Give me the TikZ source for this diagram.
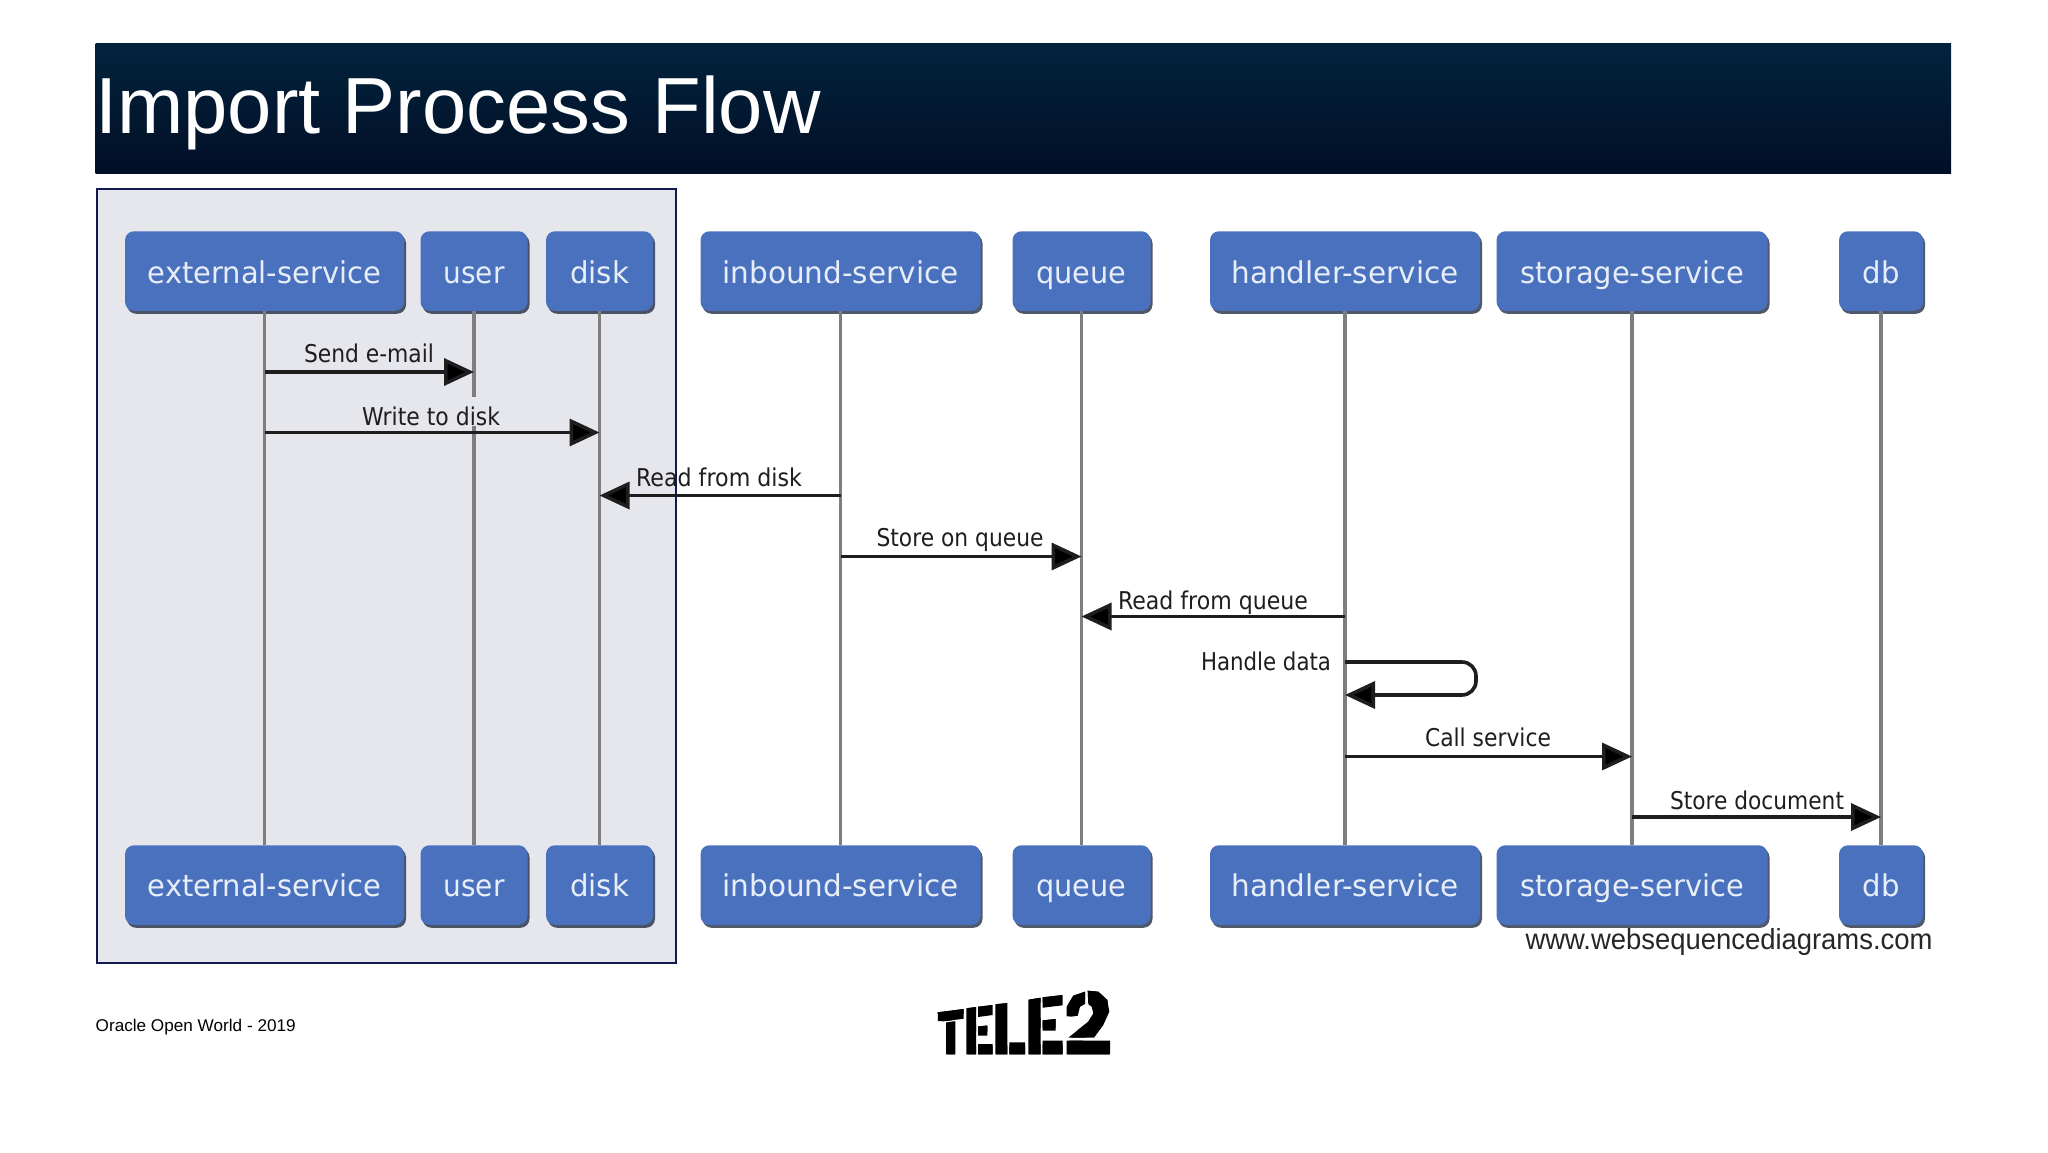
\documentclass[tikz,border=0pt]{standalone}
\usepackage{graphicx}
\usepackage{fontspec}
\setmainfont{Liberation Sans}
\newfontfamily\dv{DejaVu Sans}
\newfontfamily\logofont{Liberation Sans}[UprightFont={* Bold},FakeBold=20]
\usetikzlibrary{arrows.meta,shadows}
\definecolor{actorblue}{HTML}{4A71BE}
\definecolor{actortext}{HTML}{E8EEF8}
\definecolor{boxgrey}{HTML}{E6E7ED}
\definecolor{boxnavy}{HTML}{10184F}
\definecolor{lifegrey}{HTML}{7E7E80}
\definecolor{inkdark}{HTML}{1E1E1E}
\definecolor{headtop}{RGB}{3,35,61}
\definecolor{headmid}{RGB}{2,30,54}
\definecolor{headbot}{RGB}{1,15,38}
\newcommand\fitw[2]{\resizebox{#1pt}{\height}{#2}}
\tikzset{
  actor/.style={rectangle,rounded corners=9pt,fill=actorblue,text=actortext,inner sep=0pt,
    minimum height=79.5pt,text depth=0pt,font=\dv\fontsize{30}{32}\selectfont,
    drop shadow={shadow xshift=2pt,shadow yshift=-3pt,fill=black!70!actorblue,opacity=.75}},
  life/.style={draw=lifegrey,line width=3.4pt},
  msg/.style={draw=inkdark,line width=3.6pt,-{Triangle[length=30pt,width=27pt,fill=black]}},
  lbl/.style={anchor=base,inner sep=0pt,text=inkdark,font=\dv\fontsize{24.5}{28}\selectfont},
  logo/.style={anchor=base west,inner sep=0pt,text=black,font=\logofont\fontsize{60}{60}\selectfont},
}
\begin{document}
\begin{tikzpicture}[x=1pt,y=-1pt]
\useasboundingbox (0,0) rectangle (2048,1152);
\fill[white] (0,0) rectangle (2048,1152);
% header
\shade[top color=headtop,middle color=headmid,bottom color=headbot] (95.5,43) rectangle (1951,173.5);
\node[anchor=base west,inner sep=0pt,text=white,font=\fontsize{79.6}{90}\selectfont] (title) at (95,133) {Import Process Flow};
% highlighted panel
\node[draw=boxnavy,line width=2pt,fill=boxgrey,anchor=north west,inner sep=0pt,minimum width=579pt,minimum height=774pt] (panel) at (95.5,188) {};
% actors
\foreach \n/\t/\x/\w/\f in {ext/external-service/264.5/279/233,user/user/474/107/61,disk/disk/599.5/107/59,inb/inbound-service/840.5/280/236,que/queue/1081.5/138/90,han/handler-service/1345/270/227,sto/storage-service/1632/271/224,dbb/db/1881/84/37}{
  \node[actor,text height=25pt,minimum width=\w pt] (\n1) at (\x,271) {\fitw{\f}{\t}};
  \node[actor,text height=22pt,minimum width=\w pt] (\n2) at (\x,885) {\fitw{\f}{\t}};
  \draw[life] (\n1) -- (\n2);
}
% labels
\node[lbl] (lsend) at (369,362.5) {\fitw{130}{Send e-mail}};
\node[lbl,fill=boxgrey,text height=29pt,text depth=0pt] (lwrite) at (431,425.5) {\fitw{138}{Write to disk}};
\node[lbl] (lread) at (719,486.5) {\fitw{166}{Read from disk}};
\node[lbl] (lstore) at (960,546.5) {\fitw{167}{Store on queue}};
\node[lbl] (lreadq) at (1213,609.5) {\fitw{190}{Read from queue}};
\node[lbl] (lhandle) at (1266,670.5) {\fitw{130}{Handle data}};
\node[lbl] (lcall) at (1488,746.5) {\fitw{126}{Call service}};
\node[lbl] (lstored) at (1757,809.5) {\fitw{174}{Store document}};
% messages
\draw[msg] (ext1 |- 0,372) -- (user1 |- 0,372);
\draw[msg] (ext1 |- 0,432.5) -- (disk1 |- 0,432.5);
\draw[msg] (inb1 |- 0,495.5) -- (disk1 |- 0,495.5);
\draw[msg] (inb1 |- 0,556.5) -- (que1 |- 0,556.5);
\draw[msg] (han1 |- 0,616.5) -- (que1 |- 0,616.5);
\coordinate (loopa) at (1476,662);
\coordinate (loopb) at (1476,695);
\draw[msg,rounded corners=14pt] (han1 |- 0,662) -- (loopa) -- (loopb) -- (han1 |- 0,695);
\draw[msg] (han1 |- 0,756.5) -- (sto1 |- 0,756.5);
\draw[msg] (sto1 |- 0,817) -- (dbb1 |- 0,817);
% watermark and footer
\node[anchor=base,inner sep=0pt,text=black!85,font=\fontsize{29}{32}\selectfont] (www) at (1729,949) {\fitw{407}{www.websequencediagrams.com}};
\node[anchor=base west,inner sep=0pt,text=black,font=\fontsize{17}{20}\selectfont] (foot) at (95.5,1031) {\fitw{200}{Oracle Open World - 2019}};
% logo: real letters cut to the stencil pieces
\begin{scope}
  \clip (937.7,1012.3) -- (963.7,1009) -- (963.7,1018.7) -- (938,1022) -- cycle
        (946,1022.5) -- (955.3,1021.3) -- (955.3,1054.3) -- (946,1054.3) -- cycle;
  \node[logo] (lt) at (936,1054.3) {\resizebox{30pt}{48pt}{T}};
\end{scope}
\begin{scope}
  \clip (966.3,1008.3) -- (976,1007) -- (976,1054.3) -- (966.3,1054.3) -- cycle
        (978,1006.7) -- (992.7,1005) -- (992.7,1015) -- (978,1017) -- cycle
        (978,1026.5) -- (987.3,1025.5) -- (987.3,1035.7) -- (978,1035.7) -- cycle
        (978,1044) -- (992.7,1044) -- (992.7,1054.3) -- (978,1054.3) -- cycle;
  \node[logo] (le) at (964,1054.3) {\resizebox{31pt}{52pt}{E}};
\end{scope}
\begin{scope}
  \clip (995.3,1004.3) -- (1007.3,1003) -- (1007.3,1054.3) -- (995.3,1054.3) -- cycle
        (1009.3,1042.3) -- (1025,1042.3) -- (1025,1054.3) -- (1009.3,1054.3) -- cycle;
  \node[logo] (ll) at (992,1054.3) {\resizebox{36pt}{54pt}{L}};
\end{scope}
\begin{scope}
  \clip (1028.3,999.7) -- (1040.7,997.7) -- (1040.7,1054.3) -- (1028.3,1054.3) -- cycle
        (1042.7,997.3) -- (1062.7,995) -- (1062.7,1005.3) -- (1042.7,1007.7) -- cycle
        (1042.7,1020.3) -- (1055.7,1019) -- (1055.7,1030.7) -- (1042.7,1030.7) -- cycle
        (1042.7,1040.7) -- (1062.7,1040.7) -- (1062.7,1054.3) -- (1042.7,1054.3) -- cycle;
  \node[logo] (lf) at (1025,1054.3) {\resizebox{41pt}{62pt}{E}};
\end{scope}
\begin{scope}
  \clip (1066.7,1017.3) -- (1066.7,1006.7) -- (1073.3,995.7) -- (1085,991.7) -- (1085,1004) -- (1080,1006.7) -- (1077.7,1015.7) -- cycle
        (1087.7,990.7) -- (1098.3,991.7) -- (1107.3,1000) -- (1109.3,1011.7) -- (1103.3,1025) -- (1094,1037.7) -- (1068.3,1037.7) -- (1088.3,1021.7) -- (1093.3,1013.3) -- (1091.7,1006.7) -- (1088.3,1004.3) -- cycle
        (1066.7,1040.7) -- (1110,1040.7) -- (1110,1054.3) -- (1066.7,1054.3) -- cycle;
  \node[logo] (l2) at (1064,1054.3) {\resizebox{49pt}{66pt}{2}};
\end{scope}
\end{tikzpicture}
\end{document}
